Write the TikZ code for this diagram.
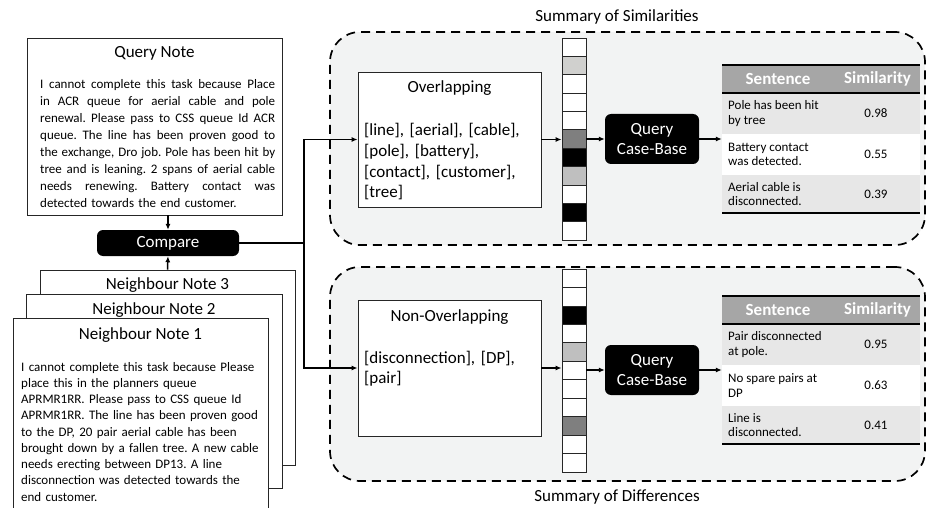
\documentclass[tikz,border=0pt]{standalone}
\usepackage{fontspec}
\setmainfont{Carlito}
\usetikzlibrary{arrows.meta}
\frenchspacing
\definecolor{regbg}{HTML}{F2F3F3}
\definecolor{cellA}{HTML}{D0D0CE}
\definecolor{cellB}{HTML}{BFBFBF}
\definecolor{cellD}{HTML}{7F7F7F}
\definecolor{thead}{HTML}{A6A6A6}
\definecolor{trow}{HTML}{E7E7E7}
\newcommand{\jl}[1]{{\spaceskip=\fontdimen2\font plus 5em minus 0.12em\relax\makebox[235pt][s]{#1}}}
\begin{document}
\begin{tikzpicture}[x=1pt,y=-1pt,
  nbox/.style={draw=black!85, line width=0.9pt, fill=white, inner sep=0pt},
  blk/.style={fill=black, rounded corners=6pt, text=white, font=\fontsize{17}{20}\selectfont, align=center, inner sep=0pt},
  region/.style={draw=black, line width=1.7pt, dash pattern=on 9pt off 6pt, fill=regbg, rounded corners=30pt, inner sep=0pt},
  conn/.style={line width=1.5pt},
  arr/.style={conn, -{Latex[length=6pt,width=5pt]}},
  ttl/.style={font=\fontsize{17}{20}\selectfont, inner sep=0pt},
  body/.style={font=\fontsize{13}{16.9}\selectfont\frenchspacing, inner sep=0pt, anchor=base west, align=left},
  kw/.style={font=\fontsize{17}{20.6}\selectfont, inner sep=0pt, anchor=base west, align=left, text width=178pt},
  hdr/.style={font=\bfseries\fontsize{17}{20}\selectfont, text=white, inner sep=0pt},
  cell/.style={font=\fontsize{13}{14.5}\selectfont, inner sep=0pt, align=left},
  cellbox/.style={draw=black!85, line width=0.8pt},
  rule/.style={line width=1.5pt}
]
\useasboundingbox (0,0) rectangle (927,508);
\clip (0,0) rectangle (927,508);

% ---------- regions ----------
\node[region, minimum width=595, minimum height=213] (rs) at (627.5,138.5) {};
\node[region, minimum width=595, minimum height=214] (rd) at (627.5,374) {};
\node[ttl] (ls) at (617,17) {Summary of Similarities};
\node[ttl] (ld) at (617,497) {Summary of Differences};

% ---------- query note ----------
\node[nbox, minimum width=255, minimum height=177] (qn) at (154.5,126.5) {};
\node[ttl] (qnt) at (154.5,53) {Query Note};
\node[body, text width=235pt] (qnx) at (40,89) {%
\jl{I cannot complete this task because Place}\\
\jl{in ACR queue for aerial cable and pole}\\
\jl{renewal. Please pass to CSS queue Id ACR}\\
\jl{queue. The line has been proven good to}\\
\jl{the exchange, Dro job. Pole has been hit by}\\
\jl{tree and is leaning. 2 spans of aerial cable}\\
\jl{needs renewing. Battery contact was}\\
detected towards the end customer.};

% ---------- compare ----------
\node[blk, minimum width=142, minimum height=26] (cmp) at (168,243) {Compare};

% ---------- neighbour notes ----------
\node[nbox, minimum width=255, minimum height=195] (n3) at (167.5,367.5) {};
\node[ttl] (n3t) at (167.5,285) {Neighbour Note 3};
\node[nbox, minimum width=256, minimum height=194] (n2) at (154,391) {};
\node[ttl] (n2t) at (154,310) {Neighbour Note 2};
\node[nbox, minimum width=255, minimum height=195] (n1) at (140.5,415.5) {};
\node[ttl] (n1t) at (140.5,335) {Neighbour Note 1};
\node[body, text width=245pt, font=\fontsize{13}{16.25}\selectfont] (n1x) at (21,371) {%
I cannot complete this task because Please\\
place this in the planners queue\\
APRMR1RR. Please pass to CSS queue Id\\
APRMR1RR. The line has been proven good\\
to the DP, 20 pair aerial cable has been\\
brought down by a fallen tree. A new cable\\
needs erecting between DP13. A line\\
disconnection was detected towards the\\
end customer.};

\draw[arr] (qn.south -| cmp) -- (cmp.north);
\draw[arr] (n3.north) -- (cmp.south);

% ---------- overlapping / non-overlapping ----------
\node[nbox, minimum width=183, minimum height=135] (ov) at (449.5,139.5) {};
\node[ttl] (ovt) at (449.5,88) {Overlapping};
\node[kw] (ovx) at (364,136) {{[line], [aerial], [cable],}\\{[pole], [battery],}\\{[contact], [customer],}\\{[tree]}};

\node[nbox, minimum width=183, minimum height=136] (nv) at (449.5,368) {};
\node[ttl] (nvt) at (449.5,317) {Non-Overlapping};
\node[kw] (nvx) at (364,363) {{[disconnection], [DP],}\\{[pair]}};

\coordinate (j) at (304,243);
\draw[conn] (cmp.east) -- (j);
\draw[arr] (j) |- (ov.west);
\draw[arr] (j) |- (nv.west);

% ---------- vectors ----------
\foreach \c [count=\i from 0] in {white,cellA,white,white,white,cellD,black,cellB,white,black,white}
  \draw[cellbox, fill=\c] (562,38+\i*18.364) rectangle ++(24,18.364);
\node[draw=black!85, line width=0.8pt, inner sep=0pt, minimum width=24, minimum height=202] (vt) at (574,139) {};
\foreach \c [count=\i from 0] in {white,white,black,white,cellB,white,white,white,cellD,white,white}
  \draw[cellbox, fill=\c] (562,269+\i*18.455) rectangle ++(24,18.455);
\node[draw=black!85, line width=0.8pt, inner sep=0pt, minimum width=24, minimum height=203] (vb) at (574,370.5) {};

\draw[arr] (ov.east) -- (ov.east -| vt.west);
\draw[arr] (nv.east) -- (nv.east -| vb.west);

% ---------- query case-base ----------
\node[blk, minimum width=94, minimum height=50] (qt) at (652,139) {Query\\Case-Base};
\node[blk, minimum width=94, minimum height=50] (qb) at (652,370) {Query\\Case-Base};
\draw[arr] (qt.west -| vt.east) -- (qt.west);
\draw[arr] (qb.west -| vb.east) -- (qb.west);

% ---------- tables ----------
\node[inner sep=0pt, minimum width=198, minimum height=148] (tt) at (821,139) {};
\fill[thead] (722,65) rectangle (920,93);
\fill[trow] (722,93) rectangle (920,134);
\fill[white] (722,134) rectangle (920,175);
\fill[trow] (722,175) rectangle (920,213);
\draw[rule] (722,65) -- (920,65);
\draw[rule] (722,93) -- (920,93);
\draw[rule] (722,213) -- (920,213);
\node[hdr] (th1) at (778,79) {Sentence};
\node[hdr] (th2) at (877.5,79) {Similarity};
\node[cell, anchor=west] (ts1) at (728,113.5) {Pole has been hit\\by tree};
\node[cell] (tv1) at (876,113.5) {0.98};
\node[cell, anchor=west] (ts2) at (728,154.5) {Battery contact\\was detected.};
\node[cell] (tv2) at (876,154.5) {0.55};
\node[cell, anchor=west] (ts3) at (728,194) {Aerial cable is\\disconnected.};
\node[cell] (tv3) at (876,194) {0.39};

\node[inner sep=0pt, minimum width=198, minimum height=148] (tb) at (821,370) {};
\fill[thead] (722,296) rectangle (920,324);
\fill[trow] (722,324) rectangle (920,365);
\fill[white] (722,365) rectangle (920,406);
\fill[trow] (722,406) rectangle (920,444);
\draw[rule] (722,296) -- (920,296);
\draw[rule] (722,324) -- (920,324);
\draw[rule] (722,444) -- (920,444);
\node[hdr] (bh1) at (778,310) {Sentence};
\node[hdr] (bh2) at (877.5,310) {Similarity};
\node[cell, anchor=west] (bs1) at (728,344.5) {Pair disconnected\\at pole.};
\node[cell] (bv1) at (876,344.5) {0.95};
\node[cell, anchor=west] (bs2) at (728,385.5) {No spare pairs at\\DP};
\node[cell] (bv2) at (876,385.5) {0.63};
\node[cell, anchor=west] (bs3) at (728,425) {Line is\\disconnected.};
\node[cell] (bv3) at (876,425) {0.41};

\draw[arr] (qt.east) -- (tt.west);
\draw[arr] (qb.east) -- (tb.west);
\end{tikzpicture}
\end{document}
